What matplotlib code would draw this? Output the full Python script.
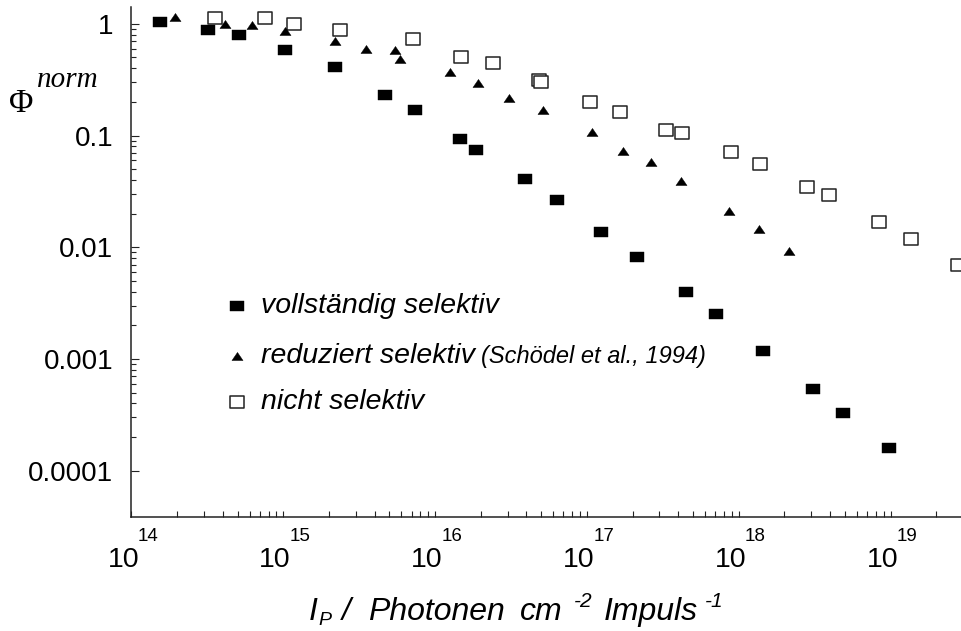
import matplotlib
matplotlib.use('Agg')
import matplotlib.pyplot as plt
import numpy as np
from matplotlib.ticker import FixedLocator, NullFormatter, FixedFormatter
from matplotlib.path import Path

plt.rcParams['font.family'] = ['Liberation Sans', 'DejaVu Sans']

# ---- data ----
voll_x = [1.54e14, 3.19e14, 5.08e14, 1.02e15, 2.19e15, 4.70e15, 7.38e15, 1.45e16, 1.85e16,
          3.89e16, 6.32e16, 1.24e17, 2.13e17, 4.52e17, 7.09e17, 1.45e18, 3.07e18, 4.85e18, 9.77e18]
voll_y = [1.05, 0.882, 0.795, 0.588, 0.407, 0.231, 0.168, 0.0932, 0.0748,
          0.0408, 0.0265, 0.01384, 0.00824, 0.00398, 0.00251, 0.00117, 0.000542, 0.000330, 0.000158]

red_x = [1.93e14, 4.15e14, 6.22e14, 1.02e15, 2.19e15, 3.53e15, 5.45e15, 5.87e15, 1.25e16, 1.92e16,
         3.07e16, 5.14e16, 1.08e17, 1.73e17, 2.63e17, 4.15e17, 8.63e17, 1.36e18, 2.13e18]
red_y = [1.16, 0.994, 0.978, 0.860, 0.696, 0.598, 0.584, 0.485, 0.369, 0.298,
         0.219, 0.168, 0.1077, 0.0724, 0.0580, 0.0391, 0.0211, 0.01467, 0.0093]

nicht_x = [3.57e14, 7.52e14, 1.17e15, 2.38e15, 7.15e15, 1.49e16, 2.40e16, 4.84e16, 5.01e16, 1.048e17,
           1.64e17, 3.31e17, 4.25e17, 8.89e17, 1.39e18, 2.82e18, 3.96e18, 8.46e18, 1.36e19, 2.79e19]
nicht_y = [1.12, 1.12, 0.988, 0.876, 0.725, 0.505, 0.444, 0.3165, 0.299, 0.200,
           0.162, 0.1127, 0.1055, 0.0709, 0.0555, 0.0349, 0.0292, 0.01675, 0.01194, 0.0069]

y_ticks = [1e-4, 1e-3, 1e-2, 1e-1, 1]
y_ticklabels = ['0.0001', '0.001', '0.01', '0.1', '1']
x_decades = [14, 15, 16, 17, 18, 19]

labels = ['vollständig selektiv', 'reduziert selektiv', 'nicht selektiv']
ref_note = '(Schödel et al., 1994)'

# ---- figure ----
W, H = 962, 631
fig = plt.figure(figsize=(W / 100, H / 100), dpi=100)
left_px, right_px, bot_px, top_px = 131.5, 962, 516.7, 7
ax = fig.add_axes([left_px / W, 1 - bot_px / H, (right_px - left_px) / W, (bot_px - top_px) / H])
ax.set_xscale('log')
ax.set_yscale('log')
ax.set_xlim(1e14, 10 ** 19.471)
ax.set_ylim(10 ** -4.412, 10 ** 0.151)

rect_f = Path([(-1, -0.77), (1, -0.77), (1, 0.77), (-1, 0.77), (-1, -0.77)], closed=True)
rect_o = Path([(-1, -0.79), (1, -0.79), (1, 0.79), (-1, 0.79), (-1, -0.79)], closed=True)
tri = Path([(-1, -0.73), (1, -0.73), (0, 0.73), (-1, -0.73)], closed=True)

sty_o = dict(ls='none', marker=rect_o, ms=10.3, mfc='white', mec='#222222', mew=1.1)
sty_t = dict(ls='none', marker=tri, ms=8.0, mfc='black', mec='black', mew=0.3)
sty_f = dict(ls='none', marker=rect_f, ms=9.5, mfc='black', mec='black', mew=0.3)

ax.plot(nicht_x, nicht_y, zorder=3, **sty_o)
ax.plot(red_x, red_y, zorder=4, **sty_t)
ax.plot(voll_x, voll_y, zorder=5, **sty_f)

for s in ['top', 'right']:
    ax.spines[s].set_visible(False)
for s in ['left', 'bottom']:
    ax.spines[s].set_linewidth(1.1)
    ax.spines[s].set_color('#222222')

ax.yaxis.set_major_locator(FixedLocator(y_ticks))
ax.yaxis.set_major_formatter(FixedFormatter(y_ticklabels))
ymin = [k * 10.0 ** e for e in range(-4, 0) for k in range(2, 10)]
ax.yaxis.set_minor_locator(FixedLocator(ymin))
ax.yaxis.set_minor_formatter(NullFormatter())
ax.tick_params(axis='y', which='major', direction='in', length=5.8, width=0.8,
               pad=13, labelsize=20, color='#222222')
ax.tick_params(axis='y', which='minor', direction='in', length=3.6, width=0.8, color='#222222')

ax.xaxis.set_major_locator(FixedLocator([10.0 ** k for k in x_decades]))
xmin = [k * 10.0 ** e for e in range(14, 20) for k in range(2, 10)]
ax.xaxis.set_minor_locator(FixedLocator(xmin))
ax.xaxis.set_major_formatter(NullFormatter())
ax.xaxis.set_minor_formatter(NullFormatter())
ax.tick_params(axis='x', which='both', direction='in', length=4.3, width=0.8, color='#222222')

for k in x_decades:
    ax.annotate('10', xy=(10.0 ** k, 0), xycoords=('data', 'axes fraction'),
                xytext=(5.5, -36.4), textcoords='offset points', ha='right', va='baseline',
                fontsize=20.5, annotation_clip=False)
    ax.annotate(str(k), xy=(10.0 ** k, 0), xycoords=('data', 'axes fraction'),
                xytext=(4.5, -17.5), textcoords='offset points', ha='left', va='baseline',
                fontsize=13.5, annotation_clip=False)

def fx(px):
    return px / W

def fy(py):
    return 1 - py / H

renderer = fig.canvas.get_renderer()

# x-axis label, composed piece by piece (text, size, baseline px, left px)
xlabel_parts = [('I', 23, 620, 309), ('P', 14, 625, 318), ('/', 23, 620, 342),
                ('Photonen', 23, 620, 368), ('cm', 23, 620, 520), ('-2', 15, 607, 574),
                ('Impuls', 23, 620, 604), ('-1', 15, 607, 705)]
for txt, size, base, xpx in xlabel_parts:
    fig.text(fx(xpx), fy(base), txt, ha='left', va='baseline', fontsize=size,
             fontstyle='italic')

# y-axis label
fig.text(fx(9), fy(112), 'Φ', ha='left', va='baseline', fontsize=24, family='Liberation Serif')
fig.text(fx(37), fy(87), 'norm', ha='left', va='baseline', fontsize=21,
         family='Liberation Serif', fontstyle='italic')

# legend (manual)
leg_x_px = 237
rows_px = [306, 356, 402]
styles = [sty_f, sty_t, sty_o]
for lab, ypx, st in zip(labels, rows_px, styles):
    ax.plot([fx(leg_x_px)], [fy(ypx)], transform=fig.transFigure, clip_on=False, **st)
    t = fig.text(fx(261), fy(ypx + 7), lab, ha='left', va='baseline', fontsize=20.5,
                 fontstyle='italic')
    if lab.startswith('reduziert'):
        x1 = t.get_window_extent(renderer).x1
        fig.text(fx(x1 + 6), fy(ypx + 7), ref_note, ha='left', va='baseline', fontsize=17,
                 fontstyle='italic')

fig.savefig('out.png', dpi=100)
